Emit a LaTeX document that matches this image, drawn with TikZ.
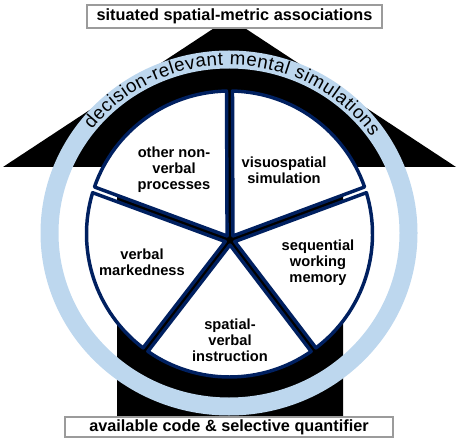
\documentclass[tikz,border=0pt]{standalone}
\usepackage{fontspec}
\setmainfont{Liberation Sans}
\usetikzlibrary{decorations.text}
\definecolor{navy}{RGB}{0,32,96}
\definecolor{ringblue}{RGB}{189,215,238}
\definecolor{boxgray}{RGB}{155,155,155}
\tikzset{every picture/.style={line width=0.75pt}}

\begin{document}
\begin{tikzpicture}[x=0.75pt,y=0.75pt,yscale=-1,xscale=1,
	wedge/.style={fill=white, draw=navy, line width=2.6pt, line join=round},
	wedgetext/.style={font=\fontsize{11}{12}\selectfont\bfseries, align=center, inner sep=0pt},
	banner/.style={draw=boxgray, fill=white, line width=1.5pt, inner sep=0pt, font=\fontsize{12.2}{14}\selectfont\bfseries}]
	\useasboundingbox (0,0) rectangle (459,441);

	%Shape: Arrow [id:arrow]
	\fill (229.5,18) -- (456,167) -- (343,167) -- (343,422) -- (117,422) -- (117,167) -- (3,167) -- cycle ;
	%Shape: Ring [id:ring]
	\coordinate (ringc) at (229,233);
	\draw [ringblue, line width=13.5pt] (ringc) ellipse [x radius=179.5, y radius=173.5] ;
	\path [decorate, decoration={text along path, text align={fit to path},
		text={|\fontsize{14}{14}\selectfont|decision-relevant mental simulations}}]
		([shift={(-142:174 and 168)}]ringc) arc [start angle=-142, end angle=-35, x radius=174, y radius=168] ;

	%Shape: Pie wedges [id:pie]
	\coordinate (piec) at (229.5,234);
	\coordinate (hub) at (230,240);
	\foreach \a/\b in {18/90,90/162,162/234,234/306,306/378}{
		\pgfmathsetmacro\m{-(\a+\b)/2}
		\pgfmathsetmacro\s{-\a-1.2}
		\pgfmathsetmacro\e{-\b+1.2}
		\draw [wedge] ([shift={(\m:5)}]hub) -- ([shift={(\s:143)}]piec) arc [start angle=\s, end angle=\e, radius=143] -- cycle ;
	}

	% Text Node
	\node [wedgetext] (visuo) at (284,170) {visuospatial\\simulation};
	% Text Node
	\node [wedgetext] (other) at (174,170) {other non-\\verbal\\processes};
	% Text Node
	\node [wedgetext] (seqwm) at (318,263) {sequential\\working\\memory};
	% Text Node
	\node [wedgetext] (markd) at (142,262) {verbal\\markedness};
	% Text Node
	\node [wedgetext] (instr) at (230,340) {spatial-\\verbal\\instruction};

	% Text Node
	\node [banner, minimum width=221.25pt, minimum height=17.25pt] (situated) at (234.5,16.5) {situated spatial-metric associations};
	% Text Node
	\node [banner, minimum width=246pt, minimum height=15pt] (available) at (229,427) {available code \& selective quantifier};

\end{tikzpicture}
\end{document}
